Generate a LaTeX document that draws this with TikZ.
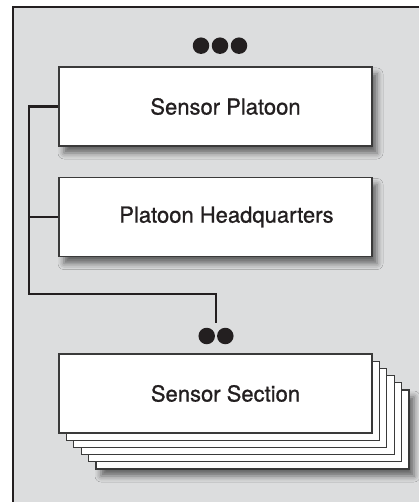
\documentclass[tikz,border=0pt]{standalone}
\usepackage{fontspec}
\newfontfamily\heros[FakeBold=0.9]{TeX Gyre Heros}
\usetikzlibrary{shadows.blur}
\definecolor{ink}{HTML}{231F20}
\definecolor{panel}{HTML}{DCDDDE}
\definecolor{boxline}{HTML}{3A3A3A}
\tikzset{
  unitbox/.style={draw=boxline, line width=1.1pt, fill=white, minimum width=313pt, minimum height=79pt, inner sep=0pt, font=\heros\fontsize{22pt}{26pt}\selectfont, text=ink},
  shad/.style={blur shadow={shadow xshift=5pt, shadow yshift=-7pt, shadow blur radius=6pt, shadow opacity=55}},
  conn/.style={draw=ink, line width=2.8pt},
  dot/.style={circle, fill=ink, minimum size=16.5pt, inner sep=0pt}
}
\begin{document}
\begin{tikzpicture}[x=1pt,y=-1pt]
\useasboundingbox (0,0) rectangle (419,502);
\clip (0,0) rectangle (419,502);
\fill[white] (0,0) rectangle (419,502);
\draw[draw=ink, fill=panel, line width=2pt] (13,7) rectangle (440,530);
% top dots
\node[dot] (t1) at (201,45.7) {};
\node[dot] (t2) at (220,45.7) {};
\node[dot] (t3) at (239,45.7) {};
% boxes
\node[unitbox, shad] (b1) at (215.5,106.5) {\hspace*{20pt}Sensor Platoon};
\node[unitbox, shad] (b2) at (215.5,217) {\hspace*{22pt}Platoon Headquarters};
% stack
\foreach \k in {5,4,3,2,1} {
  \ifnum\k=5
    \node[unitbox, shad] (s\k) at (215.5+7.4*\k,393.5+7.2*\k) {};
  \else
    \node[unitbox] (s\k) at (215.5+7.4*\k,393.5+7.2*\k) {};
  \fi
}
\node[unitbox] (b3) at (215.5,393.5) {\hspace*{20pt}Sensor Section};
% bottom dots
\node[dot] (d1) at (206.7,336) {};
\node[dot] (d2) at (225.3,336) {};
% connectors
\coordinate (top) at (29,106.5);
\coordinate (corner) at (29,294);
\coordinate (end) at (216,323);
\draw[conn] (b1.west) -- (top) -- (corner) -| (end);
\draw[conn] (b2.west) -- (b2.west -| top);
\end{tikzpicture}
\end{document}
